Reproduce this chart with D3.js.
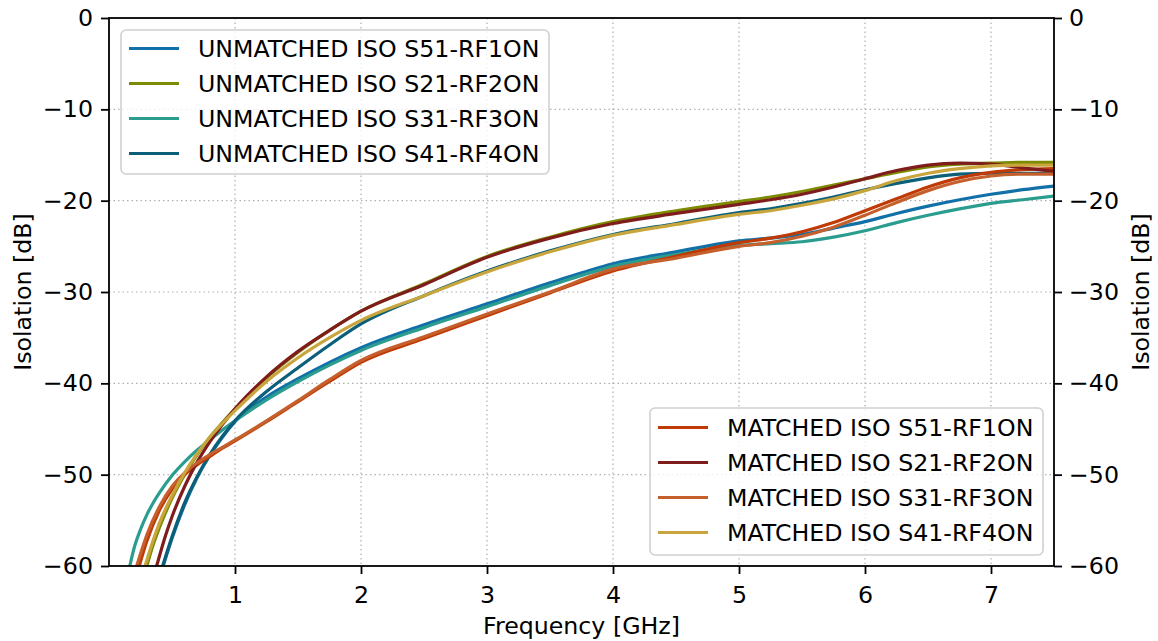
<!DOCTYPE html>
<html>
<head>
<meta charset="utf-8">
<script src="https://cdn.jsdelivr.net/npm/d3@7"></script>
<style>
  html, body { margin: 0; padding: 0; background: #ffffff; }
  svg { display: block; font-family: "DejaVu Sans", sans-serif; }
</style>
</head>
<body>
<svg id="chart" width="1158" height="641"></svg>
<script>
// ---------------- DATA ----------------
const xTicks = [1, 2, 3, 4, 5, 6, 7];
const yTicks = [0, -10, -20, -30, -40, -50, -60];

// shared frequency grid (GHz) from 1 GHz upward
const freqHi = [1.0, 1.25, 1.5, 1.75, 2.0, 2.5, 3.0, 3.5, 4.0, 4.5, 5.0, 5.25, 5.5, 5.75, 6.0, 6.25, 6.5, 6.75, 7.0, 7.25, 7.5];

// low-frequency portions (GHz / dB)
const lowF_U51 = [0.43, 0.5, 0.6, 0.7, 0.8, 0.9];
const lowV_U51 = [-60, -57.0, -53.3, -50.3, -47.9, -45.9];
const lowF_U21 = [0.30, 0.35, 0.4, 0.5, 0.6, 0.7, 0.8, 0.9];
const lowV_U21 = [-60, -57.7, -55.8, -52.6, -50.0, -47.8, -45.9, -44.3];
const lowF_U31 = [0.165, 0.2, 0.25, 0.3, 0.35, 0.4, 0.5, 0.6, 0.7, 0.8, 0.9];
const lowV_U31 = [-60, -58.0, -56.0, -54.4, -53.1, -52.0, -50.1, -48.6, -47.3, -46.2, -45.1];
const lowF_U41 = [0.426, 0.5, 0.6, 0.7, 0.8, 0.9];
const lowV_U41 = [-60, -56.8, -53.1, -50.2, -47.8, -45.8];
const lowF_M51 = [0.24, 0.3, 0.4, 0.5, 0.6, 0.7, 0.8, 0.9];
const lowV_M51 = [-60, -57.3, -53.9, -51.6, -50.0, -48.9, -48.0, -47.1];
const lowF_M21 = [0.378, 0.45, 0.5, 0.6, 0.7, 0.8, 0.9];
const lowV_M21 = [-60, -56.6, -54.6, -51.3, -48.6, -46.4, -44.5];
const lowF_M31 = [0.22, 0.3, 0.4, 0.5, 0.6, 0.7, 0.8, 0.9];
const lowV_M31 = [-60, -56.6, -53.5, -51.3, -49.8, -48.7, -47.8, -47.0];
const lowF_M41 = [0.286, 0.35, 0.4, 0.5, 0.6, 0.7, 0.8, 0.9];
const lowV_M41 = [-60, -57.2, -55.3, -52.3, -49.8, -47.7, -45.9, -44.4];

// values on freqHi grid (dB)
const hiV_U51 = [-44.2, -41.5, -39.5, -37.7, -36.1, -33.6, -31.3, -29.0, -26.9, -25.6, -24.4, -24.1, -23.7, -23.0, -22.3, -21.4, -20.6, -19.9, -19.3, -18.8, -18.4];
const hiV_U21 = [-42.8, -39.4, -36.6, -34.2, -32.1, -29.1, -26.1, -24.0, -22.3, -21.1, -20.1, -19.6, -19.0, -18.3, -17.6, -16.9, -16.3, -16.0, -15.9, -15.8, -15.8];
const hiV_U31 = [-44.1, -41.8, -39.8, -38.0, -36.4, -33.9, -31.6, -29.3, -27.2, -25.9, -24.9, -24.7, -24.5, -24.0, -23.3, -22.4, -21.6, -20.9, -20.3, -19.9, -19.5];
const hiV_U41 = [-44.1, -40.9, -38.3, -35.8, -33.5, -30.4, -27.7, -25.5, -23.7, -22.5, -21.3, -20.9, -20.3, -19.6, -18.8, -18.1, -17.5, -17.1, -17.0, -17.0, -17.0];
const hiV_M51 = [-46.3, -44.2, -42.0, -39.8, -37.7, -35.1, -32.6, -30.1, -27.7, -26.1, -24.6, -24.1, -23.4, -22.4, -21.1, -19.8, -18.5, -17.5, -16.9, -16.6, -16.5];
const hiV_M21 = [-42.8, -39.3, -36.5, -34.2, -32.1, -29.2, -26.2, -24.1, -22.5, -21.4, -20.4, -19.9, -19.3, -18.5, -17.6, -16.7, -16.1, -15.9, -16.0, -16.4, -16.8];
const hiV_M31 = [-46.2, -44.1, -41.9, -39.6, -37.5, -34.9, -32.4, -30.0, -27.5, -26.3, -25.0, -24.6, -23.9, -22.9, -21.6, -20.2, -18.9, -17.9, -17.3, -17.1, -17.1];
const hiV_M41 = [-43.0, -39.8, -37.2, -35.0, -33.1, -30.4, -27.8, -25.6, -23.8, -22.6, -21.5, -21.1, -20.5, -19.8, -18.9, -17.8, -17.0, -16.5, -16.2, -16.1, -16.1];

const seriesNames = [
  "UNMATCHED ISO S51-RF1ON", "UNMATCHED ISO S21-RF2ON", "UNMATCHED ISO S31-RF3ON", "UNMATCHED ISO S41-RF4ON",
  "MATCHED ISO S51-RF1ON", "MATCHED ISO S21-RF2ON", "MATCHED ISO S31-RF3ON", "MATCHED ISO S41-RF4ON"
];
const seriesColors = ["#1170a8", "#7d8b00", "#2a9d8f", "#0b5f78", "#c03a06", "#7f1d1d", "#c5602c", "#c9a63d"];
const lowFs = [lowF_U51, lowF_U21, lowF_U31, lowF_U41, lowF_M51, lowF_M21, lowF_M31, lowF_M41];
const lowVs = [lowV_U51, lowV_U21, lowV_U31, lowV_U41, lowV_M51, lowV_M21, lowV_M31, lowV_M41];
const hiVs  = [hiV_U51, hiV_U21, hiV_U31, hiV_U41, hiV_M51, hiV_M21, hiV_M31, hiV_M41];

// ---------------- CHART ----------------
const svg = d3.select("#chart");
const L = 109, R = 1054, T = 18, B = 566;
const x = d3.scaleLinear().domain([0, 7.5]).range([L, R]);
const y = d3.scaleLinear().domain([-60, 0]).range([B, T]);
const FS = 23.7;
const fmt = v => (v < 0 ? "\u2212" + Math.abs(v) : String(v));

svg.append("defs").append("clipPath").attr("id", "plotclip")
  .append("rect").attr("x", L).attr("y", T).attr("width", R - L).attr("height", B - T);

// grid
const grid = svg.append("g").attr("stroke", "#b0b0b0").attr("stroke-width", 1.2).attr("stroke-dasharray", "1.5,3");
grid.selectAll("line.v").data(xTicks).enter().append("line")
  .attr("x1", d => x(d)).attr("x2", d => x(d)).attr("y1", T).attr("y2", B);
grid.selectAll("line.h").data(yTicks.filter(d => d > -60 && d < 0)).enter().append("line")
  .attr("x1", L).attr("x2", R).attr("y1", d => y(d)).attr("y2", d => y(d));

// lines
const line = d3.line().x(d => x(d[0])).y(d => y(d[1])).curve(d3.curveMonotoneX);
const lines = svg.append("g").attr("clip-path", "url(#plotclip)");
seriesNames.forEach((name, i) => {
  const pts = lowFs[i].map((f, j) => [f, lowVs[i][j]]).concat(freqHi.map((f, j) => [f, hiVs[i][j]]));
  lines.append("path").datum(pts)
    .attr("fill", "none").attr("stroke", seriesColors[i]).attr("stroke-width", 3.2)
    .attr("stroke-linejoin", "round").attr("stroke-linecap", "square")
    .attr("d", line);
});

// axes
const axB = svg.append("g").attr("transform", `translate(0,${B})`)
  .call(d3.axisBottom(x).tickValues(xTicks).tickFormat(d3.format("d")).tickSize(8).tickPadding(12));
const axL = svg.append("g").attr("transform", `translate(${L},0)`)
  .call(d3.axisLeft(y).tickValues(yTicks).tickFormat(fmt).tickSize(8).tickPadding(8));
const axR = svg.append("g").attr("transform", `translate(${R},0)`)
  .call(d3.axisRight(y).tickValues(yTicks).tickFormat(fmt).tickSize(8).tickPadding(7));
[axB, axL, axR].forEach(a => {
  a.select(".domain").remove();
  a.selectAll(".tick line").attr("stroke", "#000").attr("stroke-width", 1.8);
  a.selectAll(".tick text").attr("fill", "#000").style("font-size", FS + "px").style("font-family", "DejaVu Sans");
});

// frame
svg.append("rect").attr("x", L).attr("y", T).attr("width", R - L).attr("height", B - T)
  .attr("fill", "none").attr("stroke", "#000").attr("stroke-width", 1.8);

// axis labels
svg.append("text").attr("transform", `translate(${(L + R) / 2},634)`).attr("text-anchor", "middle")
  .style("font-size", FS + "px").text("Frequency [GHz]");
svg.append("text").attr("transform", `translate(31,${(T + B) / 2}) rotate(-90)`).attr("text-anchor", "middle")
  .style("font-size", FS + "px").text("Isolation [dB]");
svg.append("text").attr("transform", `translate(1149,${(T + B) / 2}) rotate(-90)`).attr("text-anchor", "middle")
  .style("font-size", FS + "px").text("Isolation [dB]");

// legends
function legend(idx, bx, by, bw, bh, hx, tx, rowY) {
  const g = svg.append("g");
  g.append("rect").attr("x", bx).attr("y", by).attr("width", bw).attr("height", bh).attr("rx", 5)
    .attr("fill", "rgba(255,255,255,0.8)").attr("stroke", "#d0d0d0").attr("stroke-width", 1.6);
  idx.forEach((i, k) => {
    const cy = rowY + k * 35;
    g.append("line").attr("x1", hx).attr("x2", hx + 50).attr("y1", cy).attr("y2", cy)
      .attr("stroke", seriesColors[i]).attr("stroke-width", 3.2);
    g.append("text").attr("x", tx).attr("y", cy + 8.5).style("font-size", FS + "px").text(seriesNames[i]);
  });
}
legend([0, 1, 2, 3], 121, 30, 428, 144, 129, 198, 48.5);
legend([4, 5, 6, 7], 650, 408, 393, 147, 658, 727, 427.5);
</script>
</body>
</html>
